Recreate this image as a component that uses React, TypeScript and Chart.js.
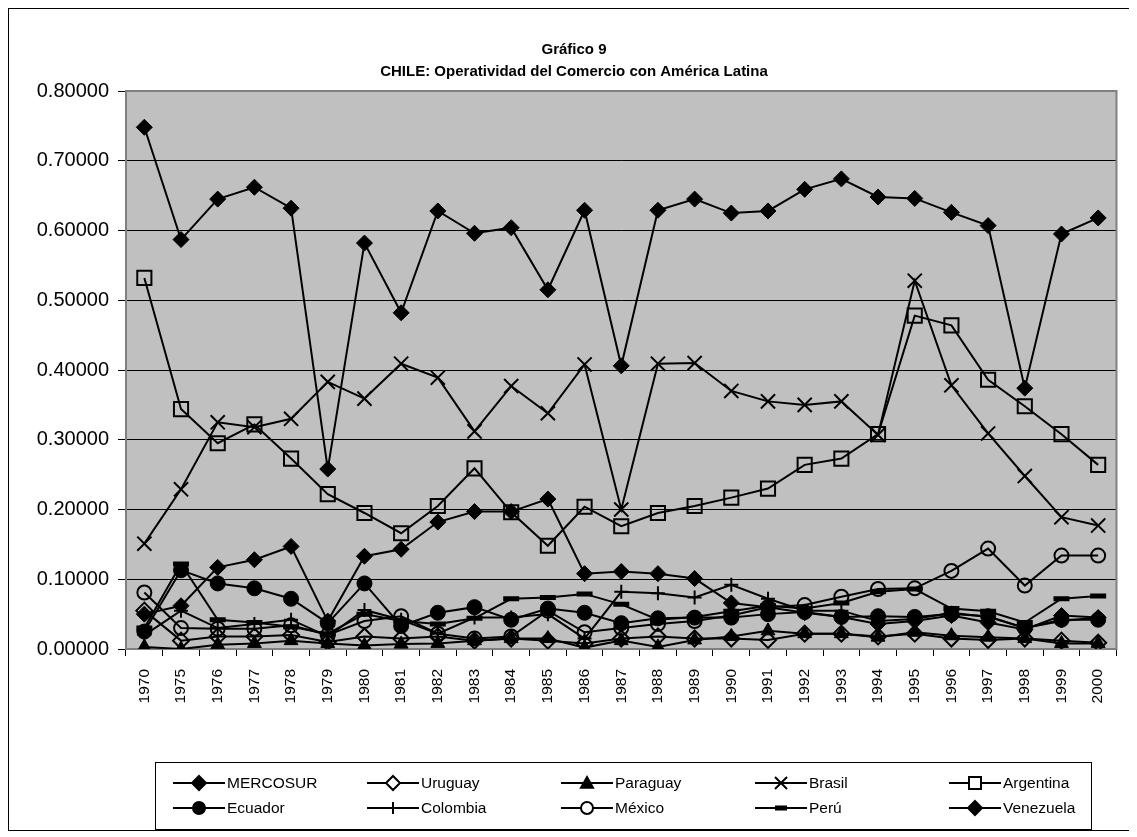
import React, { useEffect, useRef } from "react";
import { Chart, registerables } from "chart.js";

Chart.register(...registerables);

const FONT = "'Liberation Sans', Arial, Helvetica, sans-serif";

const titleLines = ["Gráfico 9", "CHILE: Operatividad del Comercio con América Latina"];

const years = [
  "1970", "1975", "1976", "1977", "1978", "1979", "1980", "1981", "1982", "1983",
  "1984", "1985", "1986", "1987", "1988", "1989", "1990", "1991", "1992", "1993",
  "1994", "1995", "1996", "1997", "1998", "1999", "2000",
];

const mercosur = [0.748, 0.587, 0.645, 0.662, 0.632, 0.258, 0.582, 0.482, 0.628, 0.596, 0.604, 0.515, 0.629, 0.406, 0.629, 0.645, 0.625, 0.628, 0.659, 0.674, 0.648, 0.646, 0.626, 0.607, 0.374, 0.595, 0.618];
const uruguay = [0.055, 0.012, 0.018, 0.018, 0.020, 0.010, 0.018, 0.015, 0.018, 0.012, 0.015, 0.012, 0.008, 0.015, 0.018, 0.015, 0.015, 0.013, 0.022, 0.022, 0.018, 0.022, 0.015, 0.013, 0.015, 0.012, 0.009];
const paraguay = [0.003, 0.000, 0.006, 0.008, 0.012, 0.008, 0.005, 0.007, 0.008, 0.012, 0.015, 0.015, 0.002, 0.012, 0.003, 0.013, 0.018, 0.026, 0.022, 0.022, 0.017, 0.024, 0.019, 0.017, 0.015, 0.008, 0.008];
const brasil = [0.151, 0.229, 0.325, 0.318, 0.330, 0.383, 0.359, 0.409, 0.389, 0.312, 0.377, 0.338, 0.408, 0.200, 0.409, 0.410, 0.370, 0.355, 0.350, 0.355, 0.307, 0.528, 0.378, 0.309, 0.248, 0.189, 0.177];
const argentina = [0.532, 0.344, 0.295, 0.322, 0.273, 0.222, 0.195, 0.166, 0.205, 0.259, 0.196, 0.148, 0.204, 0.176, 0.195, 0.205, 0.217, 0.230, 0.264, 0.273, 0.308, 0.478, 0.464, 0.386, 0.348, 0.308, 0.264];
const ecuador = [0.025, 0.113, 0.094, 0.087, 0.072, 0.037, 0.094, 0.033, 0.052, 0.060, 0.042, 0.058, 0.052, 0.037, 0.044, 0.045, 0.045, 0.050, 0.053, 0.046, 0.047, 0.046, 0.050, 0.047, 0.030, 0.042, 0.042];
const colombia = [0.020, 0.055, 0.030, 0.036, 0.042, 0.018, 0.056, 0.042, 0.022, 0.045, 0.045, 0.050, 0.015, 0.082, 0.080, 0.074, 0.092, 0.072, 0.055, 0.055, 0.040, 0.043, 0.052, 0.046, 0.030, 0.040, 0.045];
const mexico = [0.081, 0.030, 0.029, 0.029, 0.034, 0.020, 0.040, 0.047, 0.022, 0.015, 0.018, 0.055, 0.024, 0.030, 0.036, 0.040, 0.048, 0.060, 0.063, 0.075, 0.086, 0.087, 0.112, 0.144, 0.091, 0.134, 0.134];
const peru = [0.030, 0.122, 0.042, 0.038, 0.032, 0.022, 0.050, 0.040, 0.036, 0.044, 0.072, 0.074, 0.079, 0.064, 0.042, 0.046, 0.054, 0.062, 0.058, 0.066, 0.082, 0.086, 0.058, 0.054, 0.038, 0.072, 0.076];
const venezuela = [0.050, 0.062, 0.117, 0.128, 0.147, 0.040, 0.133, 0.143, 0.182, 0.197, 0.197, 0.215, 0.108, 0.111, 0.108, 0.101, 0.066, 0.060, 0.052, 0.046, 0.036, 0.040, 0.048, 0.038, 0.028, 0.048, 0.045];

const yTicks = [0, 0.1, 0.2, 0.3, 0.4, 0.5, 0.6, 0.7, 0.8];

type Mk = "diamond" | "diamondOpen" | "triangle" | "x" | "squareOpen" | "circle" | "plus" | "circleOpen" | "dash";

const seriesDefs: { label: string; data: number[]; mk: Mk }[] = [
  { label: "MERCOSUR", data: mercosur, mk: "diamond" },
  { label: "Uruguay", data: uruguay, mk: "diamondOpen" },
  { label: "Paraguay", data: paraguay, mk: "triangle" },
  { label: "Brasil", data: brasil, mk: "x" },
  { label: "Argentina", data: argentina, mk: "squareOpen" },
  { label: "Ecuador", data: ecuador, mk: "circle" },
  { label: "Colombia", data: colombia, mk: "plus" },
  { label: "México", data: mexico, mk: "circleOpen" },
  { label: "Perú", data: peru, mk: "dash" },
  { label: "Venezuela", data: venezuela, mk: "diamond" },
];

const clear = "rgba(0,0,0,0)";

function markerOptions(mk: Mk) {
  switch (mk) {
    case "diamond":
      return { pointStyle: "rectRot", pointRadius: 8, pointBackgroundColor: "#000", pointBorderWidth: 1 };
    case "diamondOpen":
      return { pointStyle: "rectRot", pointRadius: 8, pointBackgroundColor: clear, pointBorderWidth: 2 };
    case "triangle":
      return { pointStyle: "triangle", pointRadius: 8, pointBackgroundColor: "#000", pointBorderWidth: 1 };
    case "x":
      return { pointStyle: "crossRot", pointRadius: 10, pointBackgroundColor: clear, pointBorderWidth: 2 };
    case "squareOpen":
      return { pointStyle: "rect", pointRadius: 10, pointBackgroundColor: clear, pointBorderWidth: 2 };
    case "circle":
      return { pointStyle: "circle", pointRadius: 7.5, pointBackgroundColor: "#000", pointBorderWidth: 1 };
    case "plus":
      return { pointStyle: "cross", pointRadius: 7, pointBackgroundColor: clear, pointBorderWidth: 2 };
    case "circleOpen":
      return { pointStyle: "circle", pointRadius: 7, pointBackgroundColor: clear, pointBorderWidth: 2 };
    case "dash":
      return { pointStyle: "line", pointRadius: 8, pointBackgroundColor: "#000", pointBorderWidth: 5 };
  }
}

function drawLegendMarker(ctx: CanvasRenderingContext2D, mk: Mk, x: number, y: number) {
  ctx.save();
  ctx.strokeStyle = "#000";
  ctx.fillStyle = "#000";
  ctx.lineWidth = 2;
  const r = 6;
  ctx.beginPath();
  switch (mk) {
    case "diamond":
    case "diamondOpen":
      ctx.moveTo(x, y - r - 1);
      ctx.lineTo(x + r + 1, y);
      ctx.lineTo(x, y + r + 1);
      ctx.lineTo(x - r - 1, y);
      ctx.closePath();
      if (mk === "diamond") ctx.fill();
      else {
        ctx.fillStyle = "#fff";
        ctx.fill();
      }
      ctx.stroke();
      break;
    case "triangle":
      ctx.moveTo(x, y - r);
      ctx.lineTo(x + r, y + r * 0.8);
      ctx.lineTo(x - r, y + r * 0.8);
      ctx.closePath();
      ctx.fill();
      ctx.stroke();
      break;
    case "x":
      ctx.moveTo(x - r, y - r);
      ctx.lineTo(x + r, y + r);
      ctx.moveTo(x + r, y - r);
      ctx.lineTo(x - r, y + r);
      ctx.stroke();
      break;
    case "squareOpen":
      ctx.rect(x - r, y - r, 2 * r, 2 * r);
      ctx.fillStyle = "#fff";
      ctx.fill();
      ctx.stroke();
      break;
    case "circle":
    case "circleOpen":
      ctx.arc(x, y, r, 0, Math.PI * 2);
      if (mk === "circle") ctx.fill();
      else {
        ctx.fillStyle = "#fff";
        ctx.fill();
      }
      ctx.stroke();
      break;
    case "plus":
      ctx.moveTo(x - r, y);
      ctx.lineTo(x + r, y);
      ctx.moveTo(x, y - r);
      ctx.lineTo(x, y + r);
      ctx.stroke();
      break;
    case "dash":
      ctx.fillRect(x - r, y - 2.5, 2 * r, 5);
      break;
  }
  ctx.restore();
}

const framePlugin = {
  id: "excelFrame",
  beforeDraw(chart: any) {
    const { ctx, chartArea } = chart;
    ctx.save();
    ctx.fillStyle = "#C0C0C0";
    ctx.fillRect(chartArea.left, chartArea.top, chartArea.right - chartArea.left, chartArea.bottom - chartArea.top);
    ctx.restore();
  },
  beforeDatasetsDraw(chart: any) {
    const { ctx, chartArea } = chart;
    ctx.save();
    ctx.strokeStyle = "#808080";
    ctx.lineWidth = 2;
    ctx.strokeRect(chartArea.left, chartArea.top, chartArea.right - chartArea.left, chartArea.bottom - chartArea.top);
    ctx.restore();
  },
  afterDraw(chart: any) {
    const { ctx } = chart;
    ctx.save();
    // title
    ctx.fillStyle = "#000";
    ctx.textAlign = "center";
    ctx.textBaseline = "middle";
    ctx.font = `bold 15px ${FONT}`;
    ctx.fillText(titleLines[0], 565, 41);
    ctx.fillText(titleLines[1], 565, 63);

    // legend
    const boxL = 146, boxT = 753, boxR = 1082, boxB = 820;
    ctx.strokeStyle = "#000";
    ctx.lineWidth = 1;
    ctx.strokeRect(boxL + 0.5, boxT + 0.5, boxR - boxL, boxB - boxT);
    const colW = 194;
    const marker0 = 190;
    const rowY = [774, 799];
    ctx.font = `15.5px ${FONT}`;
    ctx.textAlign = "left";
    seriesDefs.forEach((s, i) => {
      const row = Math.floor(i / 5);
      const col = i % 5;
      const mx = marker0 + col * colW;
      const y = rowY[row];
      ctx.strokeStyle = "#000";
      ctx.lineWidth = 2;
      ctx.beginPath();
      ctx.moveTo(mx - 26, y);
      ctx.lineTo(mx + 26, y);
      ctx.stroke();
      drawLegendMarker(ctx, s.mk, mx, y);
      ctx.fillStyle = "#000";
      ctx.fillText(s.label, mx + 28, y + 1);
    });
    ctx.restore();
  },
};

function ChartCanvas() {
  const ref = useRef<HTMLCanvasElement | null>(null);
  useEffect(() => {
    if (!ref.current) return;
    const datasets = seriesDefs.map((s) => ({
      label: s.label,
      data: s.data,
      borderColor: "#000",
      borderWidth: 2,
      backgroundColor: "#000",
      pointBorderColor: "#000",
      tension: 0,
      fill: false,
      ...markerOptions(s.mk),
    }));
    const chart = new Chart(ref.current, {
      type: "line",
      data: { labels: years, datasets: datasets as any },
      plugins: [framePlugin],
      options: {
        animation: false,
        responsive: true,
        maintainAspectRatio: false,
        layout: { padding: { top: 82, left: 0, right: 2, bottom: 0 } },
        plugins: {
          legend: { display: false },
          title: { display: false },
          tooltip: { enabled: false },
        },
        scales: {
          x: {
            type: "category",
            offset: true,
            afterFit: (scale: any) => {
              scale.height = 181;
            },
            grid: {
              offset: true,
              drawOnChartArea: false,
              drawTicks: true,
              tickLength: 7,
              tickColor: "#000",
              color: "#000",
            },
            border: { display: true, color: "#808080", width: 2 },
            ticks: {
              autoSkip: false,
              minRotation: 90,
              maxRotation: 90,
              color: "#000",
              padding: 13,
              font: { family: FONT, size: 15.5 },
            },
          },
          y: {
            min: 0,
            max: 0.8,
            afterFit: (scale: any) => {
              scale.width = 117;
            },
            afterBuildTicks: (scale: any) => {
              scale.ticks = yTicks.map((v) => ({ value: v }));
            },
            grid: {
              color: (c: any) => {
                const v = c.tick ? c.tick.value : 0;
                return v < 0.001 || v > 0.799 ? clear : "#000";
              },
              lineWidth: 1,
              drawTicks: true,
              tickLength: 8,
              tickColor: "#000",
            },
            border: { display: true, color: "#808080", width: 2 },
            ticks: {
              color: "#000",
              padding: 9,
              font: { family: FONT, size: 20 },
              callback: (v: any) => Number(v).toFixed(5),
            },
          },
        },
      },
    });
    return () => chart.destroy();
  }, []);
  return <canvas ref={ref} />;
}

export default function App() {
  return (
    <div
      style={{
        width: 1123,
        height: 823,
        border: "1px solid #000",
        boxSizing: "border-box",
        position: "relative",
        background: "#fff",
      }}
    >
      <ChartCanvas />
    </div>
  );
}
